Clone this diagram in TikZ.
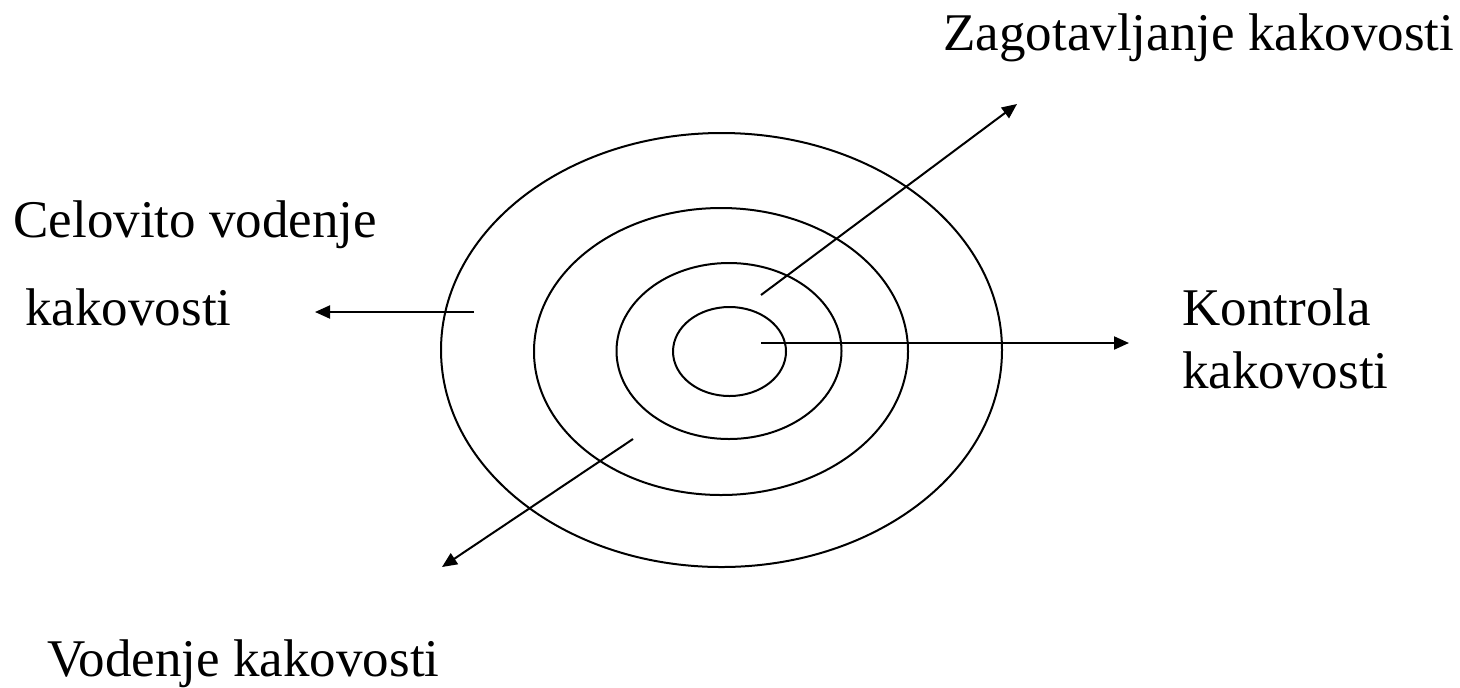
\documentclass[tikz,border=0pt]{standalone}
\usepackage{fontspec}
\setmainfont{Liberation Serif}
\usetikzlibrary{arrows.meta}
\begin{document}
\begin{tikzpicture}[x=0.5pt,y=-0.5pt,
  ring/.style={line width=1pt},
  conn/.style={line width=1pt,-{Triangle[length=7.5pt,width=6.5pt]}},
  lbl/.style={anchor=base west,inner sep=0pt,font=\fontsize{26.5}{32}\selectfont}]
\useasboundingbox[fill=white] (0,0) rectangle (1460,687);
% concentric rings
\draw[ring] (721.5,350) ellipse [x radius=140.25pt,y radius=108.5pt];
\draw[ring] (721,351.5) ellipse [x radius=93.5pt,y radius=71.75pt];
\draw[ring] (729,351) ellipse [x radius=56.25pt,y radius=44pt];
\draw[ring] (729.5,351.5) ellipse [x radius=28.25pt,y radius=22.25pt];
% labels
\node[lbl] (zag) at (943,50) {Zagotavljanje kakovosti};
\node[lbl] (cel) at (13,237) {Celovito vodenje};
\node[lbl] (cel2) at (25,325) {kakovosti};
\node[lbl] (kon) at (1182,325) {Kontrola};
\node[lbl] (kon2) at (1182,388) {kakovosti};
\node[lbl] (vod) at (47,676) {Vodenje kakovosti};
% arrow end points
\coordinate (s1) at (761,295);   \coordinate (e1) at (1017,104);
\coordinate (s2) at (761,343);   \coordinate (e2) at (1129,343);
\coordinate (s3) at (474,312);   \coordinate (e3) at (315,312);
\coordinate (s4) at (633,439);   \coordinate (e4) at (442,567);
\draw[conn] (s1) -- (e1);
\draw[conn] (s2) -- (e2);
\draw[conn] (s3) -- (e3);
\draw[conn] (s4) -- (e4);
\end{tikzpicture}
\end{document}
